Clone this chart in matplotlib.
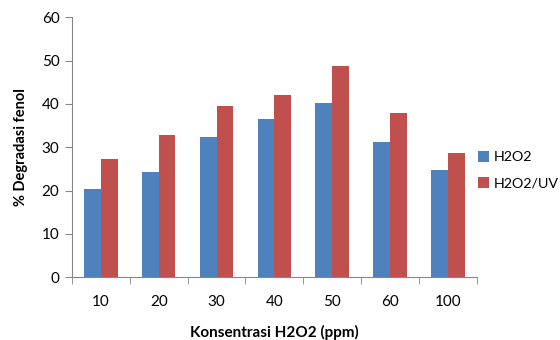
import numpy as np
import matplotlib
matplotlib.use('Agg')
from matplotlib import pyplot as plt

# data
categories = ['10', '20', '30', '40', '50', '60', '100']
h2o2 = [20.3, 24.4, 32.3, 36.5, 40.2, 31.3, 24.7]
h2o2_uv = [27.4, 32.8, 39.5, 42.1, 48.8, 38.0, 28.8]
series_names = ['H2O2', 'H2O2/UV']

plt.rcParams['font.family'] = ['Lato', 'DejaVu Sans']
grey = '#868686'

fig = plt.figure(figsize=(5.6, 3.4), dpi=100)
ax = fig.add_axes([72 / 560, 1 - 277.3 / 340, (476.7 - 72) / 560, 260 / 340])

x = np.arange(len(categories))
w = 0.29
ax.bar(x - w / 2, h2o2, w, color='#4F81BD', label=series_names[0])
ax.bar(x + w / 2, h2o2_uv, w, color='#C0504D', label=series_names[1])

ax.set_xlim(-0.5, len(categories) - 0.5)
ax.set_ylim(0, 60)
ax.set_yticks(range(0, 61, 10))

# category labels centred, tick marks between categories
ax.set_xticks(x)
ax.set_xticklabels(categories)
ax.set_xticks(np.arange(-0.5, len(categories), 1), minor=True)
ax.tick_params(axis='x', which='major', length=0, pad=13, labelsize=11, labelcolor='#000000')
ax.tick_params(axis='x', which='minor', length=5, color=grey, direction='out')
ax.tick_params(axis='y', length=5, color=grey, labelsize=11, pad=4)

for s in ['top', 'right']:
    ax.spines[s].set_visible(False)
for s in ['left', 'bottom']:
    ax.spines[s].set_color(grey)

ax.set_xlabel('Konsentrasi H2O2 (ppm)', fontsize=11, fontweight='bold', labelpad=11)
ax.set_ylabel('% Degradasi fenol', fontsize=10.5, fontweight='bold', labelpad=10)

ax.legend(loc='center left', bbox_to_anchor=(478 / 560, 1 - 170 / 340),
          bbox_transform=fig.transFigure, frameon=False,
          handlelength=0.8, handleheight=0.8, handletextpad=0.3,
          labelspacing=0.95, fontsize=10.3, borderaxespad=0, borderpad=0)

fig.savefig('out.png', dpi=100)
